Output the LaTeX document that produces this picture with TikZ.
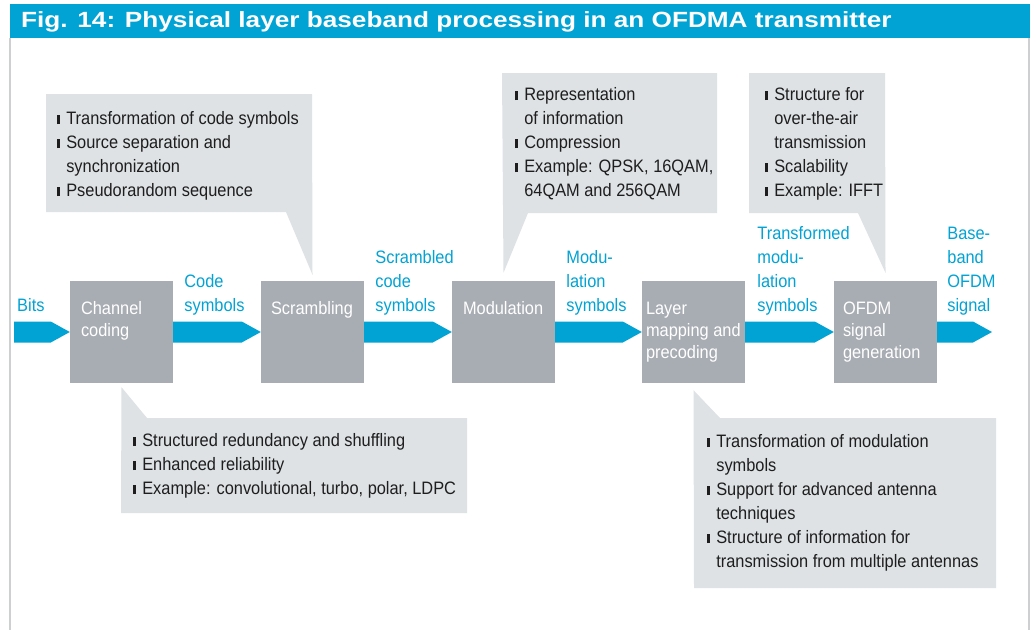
\documentclass[tikz,border=0pt]{standalone}
\usepackage{fontspec}
\setmainfont{Liberation Sans}[FakeStretch=0.91]
\newfontfamily\titlefont{Liberation Sans}[FakeStretch=1.19]
\usetikzlibrary{calc}

\definecolor{rsblue}{HTML}{00A3D4}
\definecolor{blockgray}{HTML}{A8ADB3}
\definecolor{notegray}{HTML}{DEE2E5}
\definecolor{notetext}{HTML}{1E1E1E}
\definecolor{framegray}{HTML}{CDCFD1}

% bullet bar and the indent of a continued line
\newcommand{\bul}{\rule{2.6pt}{9pt}\hspace{6.5pt}}
\newcommand{\cont}{\hspace{9.1pt}}
% stacks of lines: top-aligned (first baseline) and bottom-aligned (last baseline)
\newcommand{\topstack}[2]{\vtop{\baselineskip=#1\lineskiplimit=-30pt\relax #2}}
\newcommand{\botstack}[2]{\vbox{\baselineskip=#1\lineskiplimit=-30pt\relax #2}}
\newcommand{\lin}[1]{\hbox{#1}}

% filled flow arrow from one anchor to the next
\newcommand{\flow}[2]{%
  \fill[rsblue] ($(#1)+(0,-10.5)$) -- ($(#2)+(-19,-10.5)$) -- (#2)
    -- ($(#2)+(-19,10.5)$) -- ($(#1)+(0,10.5)$) -- cycle;}

\tikzset{
  block/.style={fill=blockgray, minimum width=103pt, minimum height=102pt,
    inner sep=0pt, draw=none},
  blocktext/.style={anchor=base west, inner sep=0pt, text=white,
    font=\fontsize{18pt}{22pt}\selectfont},
  flowlabel/.style={anchor=base west, inner sep=0pt, text=rsblue,
    font=\fontsize{18pt}{24pt}\selectfont},
  notetxt/.style={anchor=base west, inner sep=0pt, text=notetext,
    font=\fontsize{18pt}{24pt}\selectfont},
  note/.style={fill=notegray},
}

\begin{document}
\begin{tikzpicture}[x=1pt, y=-1pt]
\useasboundingbox (0,0) rectangle (1035,630);
\fill[white] (0,0) rectangle (1035,630);

% frame and title bar
\draw[framegray, line width=1.5pt] (10,38) -- (10,630);
\draw[framegray, line width=1.5pt] (1029,38) -- (1029,630);
\fill[rsblue] (10,4) rectangle (1030,38);
\node[anchor=base west, inner sep=0pt, text=white,
  font=\titlefont\bfseries\fontsize{22pt}{24pt}\selectfont] (title) at (21,27.5)
  {Fig. 14: Physical layer baseband processing in an OFDMA transmitter};

% processing blocks
\node[block] (cc)  at (121.5,332) {};
\node[block] (scr) at (312.5,332) {};
\node[block] (mod) at (503.5,332) {};
\node[block] (lay) at (693.5,332) {};
\node[block] (ofdm) at (885.5,332) {};

\node[blocktext] (cct) at ($(cc.north west)+(11,34)$) {\topstack{22pt}{\lin{Channel}\lin{coding}}};
\node[blocktext] (scrt) at ($(scr.north west)+(10,34)$) {Scrambling};
\node[blocktext] (modt) at ($(mod.north west)+(11,34)$) {Modulation};
\node[blocktext] (layt) at ($(lay.north west)+(4,34)$) {\topstack{22pt}{\lin{Layer}\lin{mapping and}\lin{precoding}}};
\node[blocktext] (ofdmt) at ($(ofdm.north west)+(9,34)$) {\topstack{22pt}{\lin{OFDM}\lin{signal}\lin{generation}}};

% flow arrows
\coordinate (in)  at (14,332);
\coordinate (out) at (992,332);
\flow{in}{cc.west}
\flow{cc.east}{scr.west}
\flow{scr.east}{mod.west}
\flow{mod.east}{lay.west}
\flow{lay.east}{ofdm.west}
\flow{ofdm.east}{out}

% flow labels
\node[flowlabel] (lbits) at (17,311) {Bits};
\node[flowlabel] (lcode) at ($(cc.east)+(11,-21)$) {\botstack{24pt}{\lin{Code}\lin{symbols}}};
\node[flowlabel] (lscr) at ($(scr.east)+(11,-21)$) {\botstack{24pt}{\lin{Scrambled}\lin{code}\lin{symbols}}};
\node[flowlabel] (lmod) at ($(mod.east)+(11,-21)$) {\botstack{24pt}{\lin{Modu-}\lin{lation}\lin{symbols}}};
\node[flowlabel] (llay) at ($(lay.east)+(12,-21)$) {\botstack{24pt}{\lin{Transformed}\lin{modu-}\lin{lation}\lin{symbols}}};
\node[flowlabel] (lout) at ($(ofdm.east)+(10,-21)$) {\botstack{24pt}{\lin{Base-}\lin{band}\lin{OFDM}\lin{signal}}};

% callout: scrambling
\coordinate (p1) at ($(scr.north)+(0,-6)$);
\fill[note] (46,94) -- (312,94) -- (p1) -- (286,212) -- (46,212) -- cycle;
\node[notetxt] (n1) at (57,124) {\topstack{24pt}{%
  \lin{\bul Transformation of code symbols}
  \lin{\bul Source separation and}
  \lin{\cont synchronization}
  \lin{\bul Pseudorandom sequence}}};

% callout: channel coding
\coordinate (p2) at ($(cc.south)+(0,4)$);
\fill[note] (p2) -- (147,418) -- (467,418) -- (467,513) -- (121,513) -- cycle;
\node[notetxt] (n2) at (133,446) {\topstack{24pt}{%
  \lin{\bul Structured redundancy and shuffling}
  \lin{\bul Enhanced reliability}
  \lin{\bul Example: convolutional, turbo, polar, LDPC}}};

% callout: modulation
\coordinate (p3) at ($(mod.north)+(0,-8)$);
\fill[note] (502,73) -- (717,73) -- (717,213) -- (528,213) -- (p3) -- cycle;
\node[notetxt] (n3) at (515,100) {\topstack{24pt}{%
  \lin{\bul Representation}
  \lin{\cont of information}
  \lin{\bul Compression}
  \lin{\bul Example: QPSK, 16QAM,}
  \lin{\cont 64QAM and 256QAM}}};

% callout: OFDM signal generation
\coordinate (p4) at ($(ofdm.north)+(0,-8)$);
\fill[note] (749,73) -- (885,73) -- (p4) -- (858,213) -- (749,213) -- cycle;
\node[notetxt] (n4) at (765,100) {\topstack{24pt}{%
  \lin{\bul Structure for}
  \lin{\cont over-the-air}
  \lin{\cont transmission}
  \lin{\bul Scalability}
  \lin{\bul Example: IFFT}}};

% callout: layer mapping and precoding
\coordinate (p5) at ($(lay.south)+(0,7)$);
\fill[note] (p5) -- (720,418) -- (996,418) -- (996,588) -- (694,588) -- cycle;
\node[notetxt] (n5) at (707,447) {\topstack{24pt}{%
  \lin{\bul Transformation of modulation}
  \lin{\cont symbols}
  \lin{\bul Support for advanced antenna}
  \lin{\cont techniques}
  \lin{\bul Structure of information for}
  \lin{\cont transmission from multiple antennas}}};
\end{tikzpicture}
\end{document}
